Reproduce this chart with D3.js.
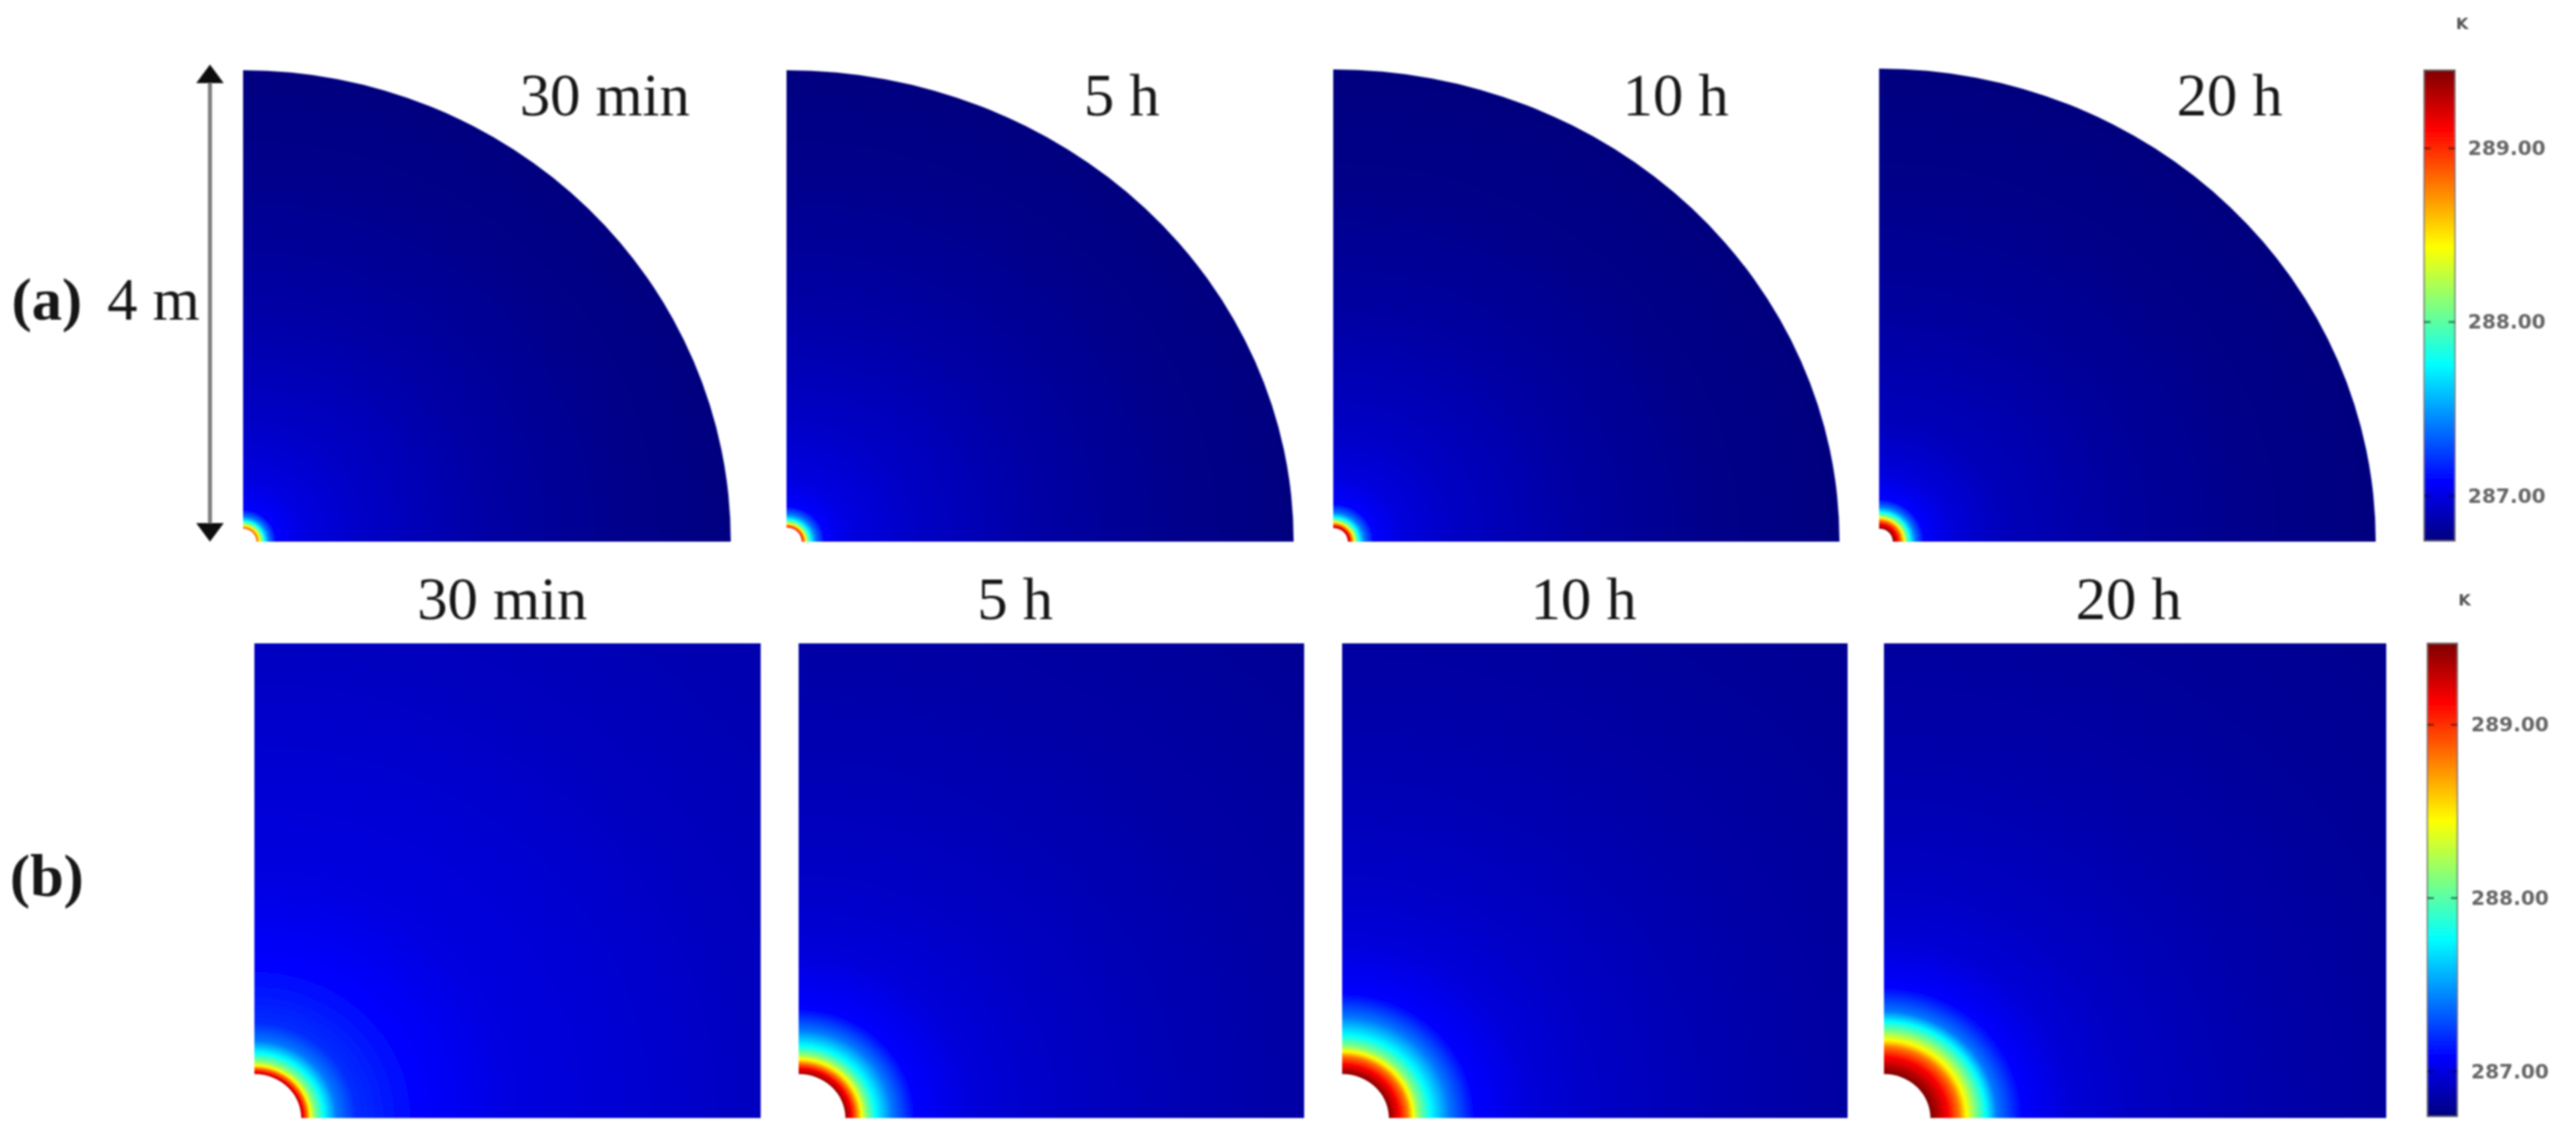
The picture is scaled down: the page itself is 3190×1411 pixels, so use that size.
<!DOCTYPE html>
<html>
<head>
<meta charset="utf-8">
<script src="https://cdn.jsdelivr.net/npm/d3@7"></script>
<style>
  html, body { margin: 0; background: #fff; }
  svg { display: block; }
</style>
</head>
<body>
<div id="chart"></div>
<script>
// values
const timeLabels = ['30 min', '5 h', '10 h', '20 h'];
const colorTicks = [287, 288, 289];
const tempMin = 286.74;

// jet colormap, fractions of the bar
const jetFractions = [0, 0.125, 0.375, 0.625, 0.875, 1];
const jetColors = ['#00007f', '#0000ff', '#00ffff', '#ffff00', '#ff0000', '#7f0000'];

// radial temperature profiles, r in metres and T in kelvin
const radiusTop30min = [0.11, 0.125, 0.14, 0.155, 0.175, 0.21, 0.27, 0.5, 1, 2, 3, 4];
const tempTop30min = [288.95, 288.7, 288.3, 288.1, 287.76, 287.4, 287.08, 287.0, 286.93, 286.84, 286.78, 286.74];
const radiusTop5h = [0.12, 0.135, 0.15, 0.165, 0.19, 0.23, 0.3, 0.5, 1, 2, 3, 4];
const tempTop5h = [289.2, 288.9, 288.5, 288.1, 287.76, 287.4, 287.08, 287.0, 286.93, 286.84, 286.78, 286.74];
const radiusTop10h = [0.115, 0.135, 0.15, 0.165, 0.18, 0.205, 0.245, 0.32, 0.55, 1, 2, 3, 4];
const tempTop10h = [289.3, 289.13, 288.8, 288.45, 288.1, 287.76, 287.4, 287.08, 286.99, 286.92, 286.83, 286.77, 286.74];
const radiusTop20h = [0.11, 0.15, 0.18, 0.2, 0.22, 0.25, 0.29, 0.36, 0.6, 1, 2, 3, 4];
const tempTop20h = [289.45, 289.13, 288.8, 288.45, 288.1, 287.76, 287.4, 287.08, 286.98, 286.9, 286.82, 286.77, 286.74];

const radiusBottom30min = [0.37, 0.39, 0.42, 0.44, 0.48, 0.55, 0.65, 0.8, 1.3, 2, 3.2, 4, 5.66];
const tempBottom30min = [289.35, 289.13, 288.8, 288.45, 288.1, 287.76, 287.4, 287.2, 287.08, 287.0, 286.95, 286.91, 286.86];
const radiusBottom5h = [0.37, 0.42, 0.46, 0.495, 0.54, 0.61, 0.74, 0.92, 1.4, 2, 3, 4, 5.66];
const tempBottom5h = [289.4, 289.13, 288.8, 288.45, 288.1, 287.76, 287.4, 287.08, 286.98, 286.93, 286.88, 286.84, 286.8];
const radiusBottom10h = [0.37, 0.45, 0.52, 0.56, 0.61, 0.7, 0.85, 1.05, 1.5, 2, 3, 4, 5.66];
const tempBottom10h = [289.45, 289.13, 288.8, 288.45, 288.1, 287.76, 287.4, 287.08, 286.98, 286.93, 286.87, 286.83, 286.79];
const radiusBottom20h = [0.37, 0.51, 0.6, 0.655, 0.73, 0.815, 0.9, 1.1, 1.5, 2, 3, 4, 5.66];
const tempBottom20h = [289.47, 289.13, 288.8, 288.45, 288.1, 287.76, 287.4, 287.08, 286.97, 286.92, 286.86, 286.82, 286.78];

const topProfiles = [[radiusTop30min, tempTop30min], [radiusTop5h, tempTop5h], [radiusTop10h, tempTop10h], [radiusTop20h, tempTop20h]];
const bottomProfiles = [[radiusBottom30min, tempBottom30min], [radiusBottom5h, tempBottom5h], [radiusBottom10h, tempBottom10h], [radiusBottom20h, tempBottom20h]];

const width = 3190;
const height = 1411;
const domainSize = 4; // metres

const svg = d3.select('#chart').append('svg')
  .attr('width', width)
  .attr('height', height)
  .attr('viewBox', `0 0 ${width} ${height}`);

const defs = svg.append('defs');

// the source is a soft, upscaled raster
defs.append('filter')
  .attr('id', 'soft')
  .attr('filterUnits', 'userSpaceOnUse')
  .attr('x', 0).attr('y', 0).attr('width', width).attr('height', height)
  .append('feGaussianBlur')
  .attr('stdDeviation', 1.3);

const root = svg.append('g').attr('filter', 'url(#soft)');

const tempTop = 289.46;
const jet = d3.scaleLinear()
  .domain(jetFractions.map(f => tempMin + f * (tempTop - tempMin)))
  .range(jetColors)
  .clamp(true);

function addRadialGradient(id, radius, temp) {
  const rMax = radius[radius.length - 1];
  const grad = defs.append('radialGradient')
    .attr('id', id)
    .attr('gradientUnits', 'userSpaceOnUse')
    .attr('cx', 0).attr('cy', 0).attr('r', rMax);
  const tempAt = d3.scaleLinear().domain(radius).range(temp);
  d3.pairs(radius).forEach(([a, b]) => {
    d3.range(8).forEach(k => {
      const r = a + (b - a) * k / 8;
      grad.append('stop').attr('offset', r / rMax).attr('stop-color', jet(tempAt(r)));
    });
  });
  grad.append('stop').attr('offset', 1).attr('stop-color', jet(temp[temp.length - 1]));
}

// a panel is drawn in metres, origin at the pipe centre
function drawPanel(id, box, profile, square) {
  const [radius, temp] = profile;
  const x = d3.scaleLinear().domain([0, domainSize]).range([box.x0, box.x1]);
  const y = d3.scaleLinear().domain([0, domainSize]).range([box.y1, box.y0]);
  addRadialGradient(id, radius, temp);

  const g = root.append('g')
    .attr('transform', `translate(${x(0)},${y(0)}) scale(${x(1) - x(0)},${y(0) - y(1)})`);

  const arc = d3.arc()
    .innerRadius(radius[0])
    .outerRadius(radius[radius.length - 1])
    .startAngle(0)
    .endAngle(Math.PI / 2);

  const path = g.append('path').attr('d', arc()).attr('fill', `url(#${id})`);

  if (square) {
    defs.append('clipPath').attr('id', id + '-clip')
      .append('rect')
      .attr('x', 0).attr('y', -domainSize)
      .attr('width', domainSize).attr('height', domainSize);
    path.attr('clip-path', `url(#${id}-clip)`);
  }
}

const topBoxes = [
  { x0: 301, x1: 905, y0: 87, y1: 671 },
  { x0: 974, x1: 1602, y0: 87, y1: 671 },
  { x0: 1651, x1: 2278, y0: 86, y1: 671 },
  { x0: 2327, x1: 2942, y0: 85, y1: 671 }
];
const bottomBoxes = [
  { x0: 315, x1: 942, y0: 797, y1: 1385 },
  { x0: 989, x1: 1615, y0: 797, y1: 1385 },
  { x0: 1662, x1: 2288, y0: 797, y1: 1385 },
  { x0: 2333, x1: 2955, y0: 797, y1: 1385 }
];

topBoxes.forEach((b, i) => drawPanel('top' + i, b, topProfiles[i], false));
bottomBoxes.forEach((b, i) => drawPanel('bottom' + i, b, bottomProfiles[i], true));

// labels
const serif = '"Liberation Serif", "Times New Roman", serif';
const topTitleX = [749, 1389, 2075, 2761];
const bottomTitleX = [622, 1257, 1961, 2636];

function addLabel(txt, x, y, bold) {
  root.append('text')
    .attr('x', x).attr('y', y)
    .attr('text-anchor', 'middle')
    .attr('font-family', serif)
    .attr('font-size', 75)
    .attr('font-weight', bold ? 'bold' : 'normal')
    .attr('fill', '#141414')
    .text(txt);
}

timeLabels.forEach((t, i) => {
  addLabel(t, topTitleX[i], 143, false);
  addLabel(t, bottomTitleX[i], 767, false);
});
addLabel('(a)', 58, 396, true);
addLabel('(b)', 58, 1110, true);
addLabel('4 m', 190, 396, false);

// 4 m dimension arrow
const arrowX = 260;
root.append('line')
  .attr('x1', arrowX).attr('x2', arrowX)
  .attr('y1', 100).attr('y2', 650)
  .attr('stroke', '#7d7d7d')
  .attr('stroke-width', 5);
const arrowHead = d3.line();
root.append('path')
  .attr('d', arrowHead([[arrowX, 80], [arrowX + 17, 103], [arrowX - 17, 103]]) + 'Z')
  .attr('fill', '#0c0c0c');
root.append('path')
  .attr('d', arrowHead([[arrowX, 671], [arrowX + 17, 648], [arrowX - 17, 648]]) + 'Z')
  .attr('fill', '#0c0c0c');

// colour bars
function drawColorBar(id, x0, x1, y0, y1, top, labelX, unitY) {
  const y = d3.scaleLinear().domain([tempMin, top]).range([y1, y0]);

  const grad = defs.append('linearGradient')
    .attr('id', id)
    .attr('x1', 0).attr('x2', 0).attr('y1', 1).attr('y2', 0);
  jetFractions.forEach((f, i) => {
    grad.append('stop').attr('offset', f).attr('stop-color', jetColors[i]);
  });

  root.append('rect')
    .attr('x', x0).attr('y', y0)
    .attr('width', x1 - x0).attr('height', y1 - y0)
    .attr('fill', `url(#${id})`)
    .attr('stroke', '#555')
    .attr('stroke-opacity', 0.7)
    .attr('stroke-width', 2);

  const axis = d3.axisRight(y)
    .tickValues(colorTicks)
    .tickSize(0)
    .tickPadding(labelX - x1)
    .tickFormat(d3.format('.2f'));

  const ax = root.append('g')
    .attr('transform', `translate(${x1},0)`)
    .call(axis);
  ax.select('.domain').remove();
  ax.selectAll('text')
    .attr('font-family', '"DejaVu Sans", sans-serif')
    .attr('font-size', 25)
    .attr('font-weight', 'bold')
    .attr('fill', '#666');

  // small notches on both sides of the bar
  colorTicks.forEach(t => {
    [[x0, x0 + 8], [x1 - 8, x1]].forEach(([a, b]) => {
      root.append('line')
        .attr('x1', a).attr('x2', b)
        .attr('y1', y(t)).attr('y2', y(t))
        .attr('stroke', '#000')
        .attr('stroke-opacity', 0.55)
        .attr('stroke-width', 2.5);
    });
  });

  root.append('text')
    .attr('x', x1 + 9).attr('y', unitY)
    .attr('text-anchor', 'middle')
    .attr('font-family', '"DejaVu Sans", sans-serif')
    .attr('font-size', 20)
    .attr('font-weight', 'bold')
    .attr('fill', '#555')
    .text('K');
}

drawColorBar('barTop', 3002, 3040, 87, 670, 289.45, 3056, 36);
drawColorBar('barBottom', 3006, 3043, 797, 1383, 289.47, 3060, 750);
</script>
</body>
</html>
